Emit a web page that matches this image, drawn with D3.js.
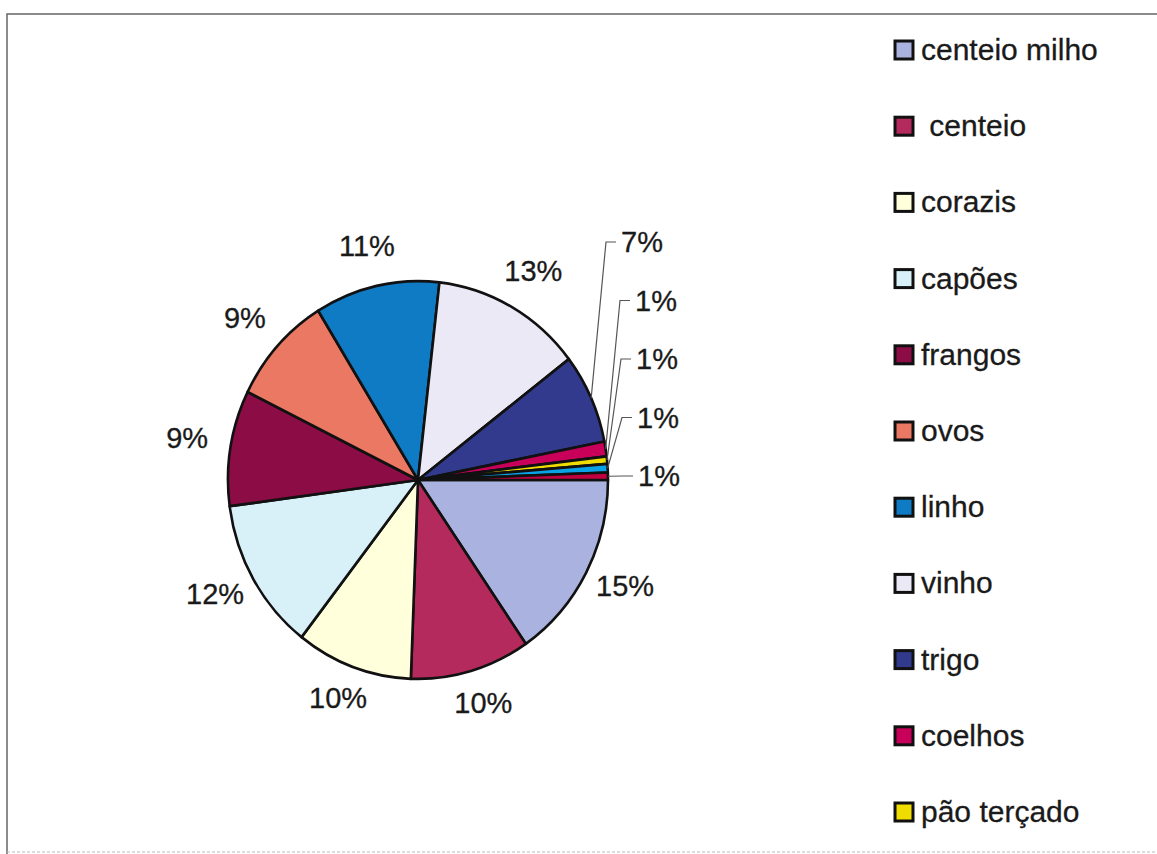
<!DOCTYPE html>
<html>
<head>
<meta charset="utf-8">
<script src="https://cdn.jsdelivr.net/npm/d3@7"></script>
<style>
  body { margin: 0; background: #fff; }
  text { font-family: "Liberation Sans", Arial, sans-serif; fill: #1a1a1a; stroke: #1a1a1a; stroke-width: 0.3px; }
</style>
</head>
<body>
<div id="canvas"></div>
<script>
// categories (last two are below the visible part of the legend)
const categories = ["centeio milho", " centeio", "corazis", "capões", "frangos", "ovos",
  "linho", "vinho", "trigo", "coelhos", "pão terçado", "", ""];
const values = [15.4, 10.2, 9.9, 12.4, 9.4, 8.9, 10.6, 12.8, 7.3, 1.2, 0.6, 0.7, 0.6];
const colors = ["#aab3e0", "#b52a5c", "#ffffdc", "#d8f1f8", "#8c0c46", "#ea7862",
  "#0f7bc4", "#ebe9f5", "#323a8d", "#c8005a", "#efdc00", "#0aa2e6", "#c00040"];

const width = 1157, height = 854;
const cx = 418, cy = 480, r = 190, sy = 1.047;

const data = categories.map((c, i) => ({ name: c, value: values[i], color: colors[i] }));
const total = d3.sum(values);

const svg = d3.select("#canvas").append("svg")
  .attr("width", width).attr("height", height);

// frame (top and left edges, faint bottom)
svg.append("path")
  .attr("d", "M7,854 V14 H1157")
  .attr("fill", "none").attr("stroke", "#666").attr("stroke-width", 1.5);
svg.append("line")
  .attr("x1", 7).attr("x2", 1157).attr("y1", 852).attr("y2", 852)
  .attr("stroke", "#bbb").attr("stroke-width", 1).attr("stroke-dasharray", "3,2");

const pie = d3.pie().sort(null).value(d => d.value)
  .startAngle(Math.PI / 2).endAngle(Math.PI / 2 + 2 * Math.PI);
const arcs = pie(data);
const arc = d3.arc().innerRadius(0).outerRadius(r);

const g = svg.append("g")
  .attr("transform", `translate(${cx},${cy}) scale(1,${sy})`);

g.selectAll("path").data(arcs).enter().append("path")
  .attr("d", arc)
  .attr("fill", d => d.data.color)
  .attr("stroke", "#111")
  .attr("stroke-width", 2.6)
  .attr("stroke-linejoin", "round");

const pct = d => Math.round(d.data.value / total * 100) + "%";
const mid = d => (d.startAngle + d.endAngle) / 2;

// big slices: labels outside the pie
const big = arcs.slice(0, 8);
svg.selectAll("text.lbl").data(big).enter().append("text")
  .attr("class", "lbl")
  .attr("x", d => cx + 234 * Math.sin(mid(d)))
  .attr("y", d => cy - 4 - 236 * Math.cos(mid(d)))
  .attr("dy", "0.36em")
  .attr("text-anchor", "middle")
  .style("font-size", "29px")
  .text(pct);

// small slices: labels in a column with leader lines
const small = arcs.slice(8);
const colY = d3.scaleLinear().domain([0, small.length - 1]).range([242, 476]);
const elbowX = i => i === 0 ? 606 : 619 + i;

small.forEach((d, i) => {
  const a = mid(d);
  const ex = cx + r * Math.sin(a), ey = cy - r * sy * Math.cos(a);
  const ly = colY(i);
  svg.append("polyline")
    .attr("points", `${ex},${ey} ${elbowX(i)},${ly} ${elbowX(i) + 10},${ly}`)
    .attr("fill", "none").attr("stroke", "#555").attr("stroke-width", 1.2);
  svg.append("text")
    .attr("x", elbowX(i) + 15).attr("y", ly).attr("dy", "0.36em")
    .style("font-size", "29px")
    .text(pct(d));
});

// legend
const legend = svg.append("g");
const item = legend.selectAll("g").data(data).enter().append("g")
  .attr("transform", (d, i) => `translate(895,${60 + i * 76.2})`);
item.append("rect")
  .attr("x", 0).attr("y", -19).attr("width", 18).attr("height", 18)
  .attr("fill", d => d.color).attr("stroke", "#111").attr("stroke-width", 3);
item.append("text")
  .attr("x", 26).attr("y", 0)
  .attr("xml:space", "preserve")
  .style("white-space", "pre")
  .style("font-size", "30px")
  .text(d => d.name);
</script>
</body>
</html>
